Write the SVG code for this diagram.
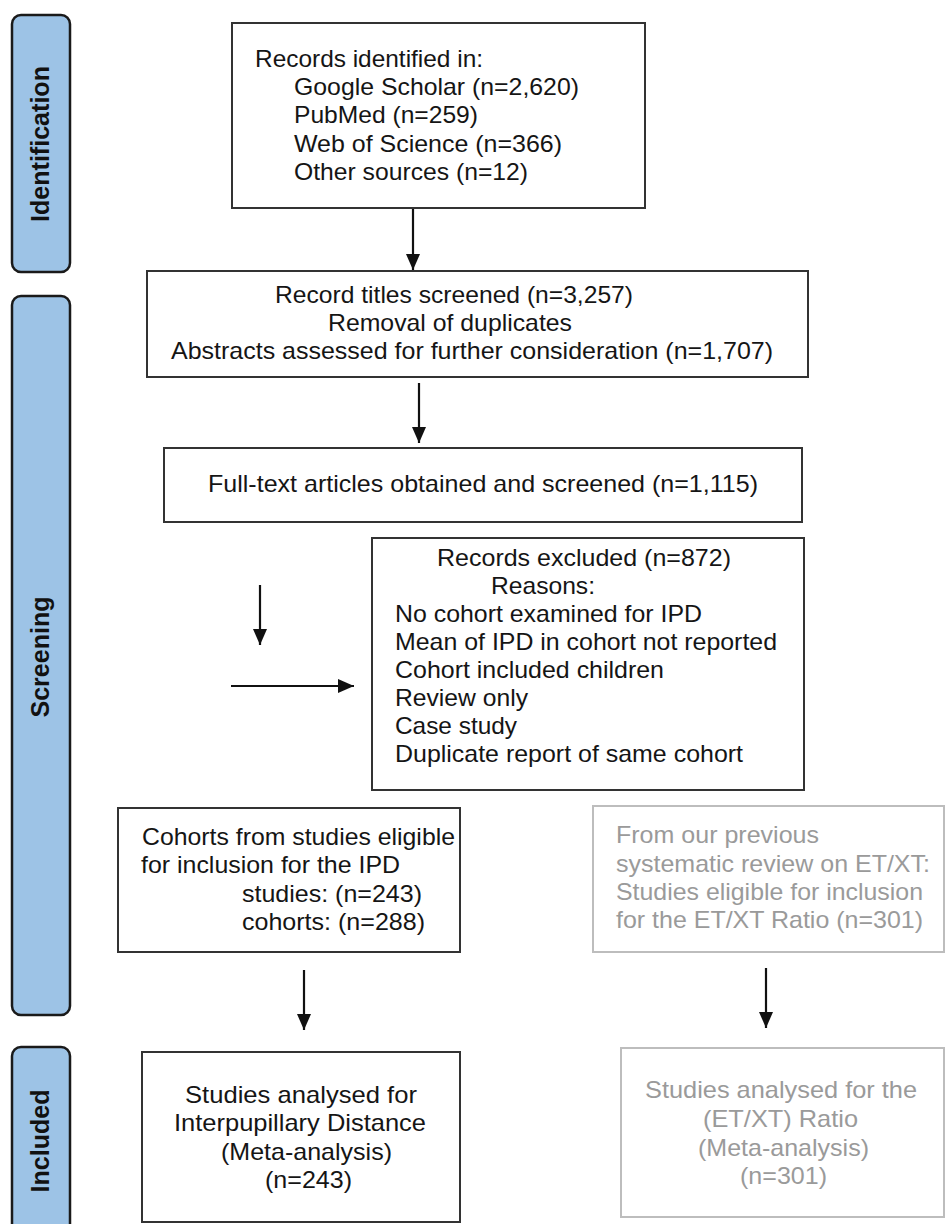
<svg xmlns="http://www.w3.org/2000/svg" width="946" height="1224" viewBox="0 0 946 1224">
<style>
.bg{fill:#ffffff}
.bar{fill:#9dc3e6;stroke:#1a1a1a;stroke-width:2.5}
.bl{font-family:"Liberation Sans",Arial,sans-serif;font-weight:bold;font-size:26px;fill:#111;text-anchor:middle}
.box{fill:#ffffff;stroke:#333333;stroke-width:2}
.gbox{fill:#ffffff;stroke:#bdbdbd;stroke-width:2}
.t{font-family:"Liberation Sans",Arial,sans-serif;font-size:24px;fill:#151515}
.g{font-family:"Liberation Sans",Arial,sans-serif;font-size:24px;fill:#9a9a9a}
.c{stroke:#111;stroke-width:2.2;fill:none}
</style>
<defs>
<marker id="ah" markerWidth="16" markerHeight="14" viewBox="0 0 16 14" refX="16" refY="7" orient="auto" markerUnits="userSpaceOnUse">
<path d="M0,0 L16,7 L0,14 Z" fill="#111"/>
</marker>
</defs>
<rect class="bg" x="0" y="0" width="946" height="1224"/>

<g id="phase-identification">
<rect class="bar" x="12" y="15" width="58" height="257" rx="9"/>
<text class="bl" transform="translate(49,144) rotate(-90)" textLength="156" lengthAdjust="spacingAndGlyphs">Identification</text>
</g>
<g id="phase-screening">
<rect class="bar" x="12" y="296" width="58" height="719" rx="9"/>
<text class="bl" transform="translate(49,657) rotate(-90)" textLength="121" lengthAdjust="spacingAndGlyphs">Screening</text>
</g>
<g id="phase-included">
<rect class="bar" x="12" y="1047" width="58" height="200" rx="9"/>
<text class="bl" transform="translate(49,1141) rotate(-90)" textLength="103" lengthAdjust="spacingAndGlyphs">Included</text>
</g>

<g id="connectors">
<line class="c" x1="413" y1="208" x2="413" y2="270" marker-end="url(#ah)"/>
<line class="c" x1="419" y1="383" x2="419" y2="443" marker-end="url(#ah)"/>
<line class="c" x1="260" y1="585" x2="260" y2="645" marker-end="url(#ah)"/>
<line class="c" x1="231" y1="686" x2="354" y2="686" marker-end="url(#ah)"/>
<line class="c" x1="304" y1="970" x2="304" y2="1030" marker-end="url(#ah)"/>
<line class="c" x1="766" y1="968" x2="766" y2="1028" marker-end="url(#ah)"/>
</g>

<g id="records-identified">
<rect class="box" x="232" y="23" width="413" height="185"/>
<text class="t" x="255" y="67" textLength="228" lengthAdjust="spacingAndGlyphs">Records identified in:</text>
<text class="t" x="294" y="95" textLength="285" lengthAdjust="spacingAndGlyphs">Google Scholar (n=2,620)</text>
<text class="t" x="294" y="123" textLength="184" lengthAdjust="spacingAndGlyphs">PubMed (n=259)</text>
<text class="t" x="294" y="152" textLength="268" lengthAdjust="spacingAndGlyphs">Web of Science (n=366)</text>
<text class="t" x="294" y="180" textLength="234" lengthAdjust="spacingAndGlyphs">Other sources (n=12)</text>
</g>

<g id="titles-screened">
<rect class="box" x="147" y="271" width="661" height="106"/>
<text class="t" x="275" y="303" textLength="358" lengthAdjust="spacingAndGlyphs">Record titles screened (n=3,257)</text>
<text class="t" x="328" y="331" textLength="244" lengthAdjust="spacingAndGlyphs">Removal of duplicates</text>
<text class="t" x="171" y="359" textLength="602" lengthAdjust="spacingAndGlyphs">Abstracts assessed for further consideration (n=1,707)</text>
</g>

<g id="full-text">
<rect class="box" x="164" y="448" width="638" height="74"/>
<text class="t" x="208" y="492" textLength="550" lengthAdjust="spacingAndGlyphs">Full-text articles obtained and screened (n=1,115)</text>
</g>

<g id="records-excluded">
<rect class="box" x="372" y="538" width="432" height="252"/>
<text class="t" x="437" y="566" textLength="294" lengthAdjust="spacingAndGlyphs">Records excluded (n=872)</text>
<text class="t" x="491" y="594" textLength="104" lengthAdjust="spacingAndGlyphs">Reasons:</text>
<text class="t" x="395" y="622" textLength="307" lengthAdjust="spacingAndGlyphs">No cohort examined for IPD</text>
<text class="t" x="395" y="650" textLength="382" lengthAdjust="spacingAndGlyphs">Mean of IPD in cohort not reported</text>
<text class="t" x="395" y="678" textLength="269" lengthAdjust="spacingAndGlyphs">Cohort included children</text>
<text class="t" x="395" y="706" textLength="133" lengthAdjust="spacingAndGlyphs">Review only</text>
<text class="t" x="395" y="734" textLength="122" lengthAdjust="spacingAndGlyphs">Case study</text>
<text class="t" x="395" y="762" textLength="348" lengthAdjust="spacingAndGlyphs">Duplicate report of same cohort</text>
</g>

<g id="cohorts-eligible">
<rect class="box" x="118" y="808" width="342" height="144"/>
<text class="t" x="142" y="845" textLength="313" lengthAdjust="spacingAndGlyphs">Cohorts from studies eligible</text>
<text class="t" x="141" y="873" textLength="259" lengthAdjust="spacingAndGlyphs">for inclusion for the IPD</text>
<text class="t" x="242" y="902" textLength="180" lengthAdjust="spacingAndGlyphs">studies: (n=243)</text>
<text class="t" x="242" y="930" textLength="183" lengthAdjust="spacingAndGlyphs">cohorts: (n=288)</text>
</g>

<g id="previous-review">
<rect class="gbox" x="593" y="806" width="351" height="146"/>
<text class="g" x="616" y="843" textLength="203" lengthAdjust="spacingAndGlyphs">From our previous</text>
<text class="g" x="616" y="872" textLength="314" lengthAdjust="spacingAndGlyphs">systematic review on ET/XT:</text>
<text class="g" x="616" y="900" textLength="307" lengthAdjust="spacingAndGlyphs">Studies eligible for inclusion</text>
<text class="g" x="616" y="928" textLength="307" lengthAdjust="spacingAndGlyphs">for the ET/XT Ratio (n=301)</text>
</g>

<g id="analysed-ipd">
<rect class="box" x="142" y="1052" width="318" height="170"/>
<text class="t" x="185" y="1103" textLength="232" lengthAdjust="spacingAndGlyphs">Studies analysed for</text>
<text class="t" x="174" y="1131" textLength="252" lengthAdjust="spacingAndGlyphs">Interpupillary Distance</text>
<text class="t" x="221" y="1160" textLength="171" lengthAdjust="spacingAndGlyphs">(Meta-analysis)</text>
<text class="t" x="265" y="1188" textLength="87" lengthAdjust="spacingAndGlyphs">(n=243)</text>
</g>

<g id="analysed-ratio">
<rect class="gbox" x="621" y="1048" width="323" height="169"/>
<text class="g" x="645" y="1098" textLength="272" lengthAdjust="spacingAndGlyphs">Studies analysed for the</text>
<text class="g" x="703" y="1127" textLength="155" lengthAdjust="spacingAndGlyphs">(ET/XT) Ratio</text>
<text class="g" x="698" y="1156" textLength="171" lengthAdjust="spacingAndGlyphs">(Meta-analysis)</text>
<text class="g" x="740" y="1184" textLength="87" lengthAdjust="spacingAndGlyphs">(n=301)</text>
</g>
</svg>
